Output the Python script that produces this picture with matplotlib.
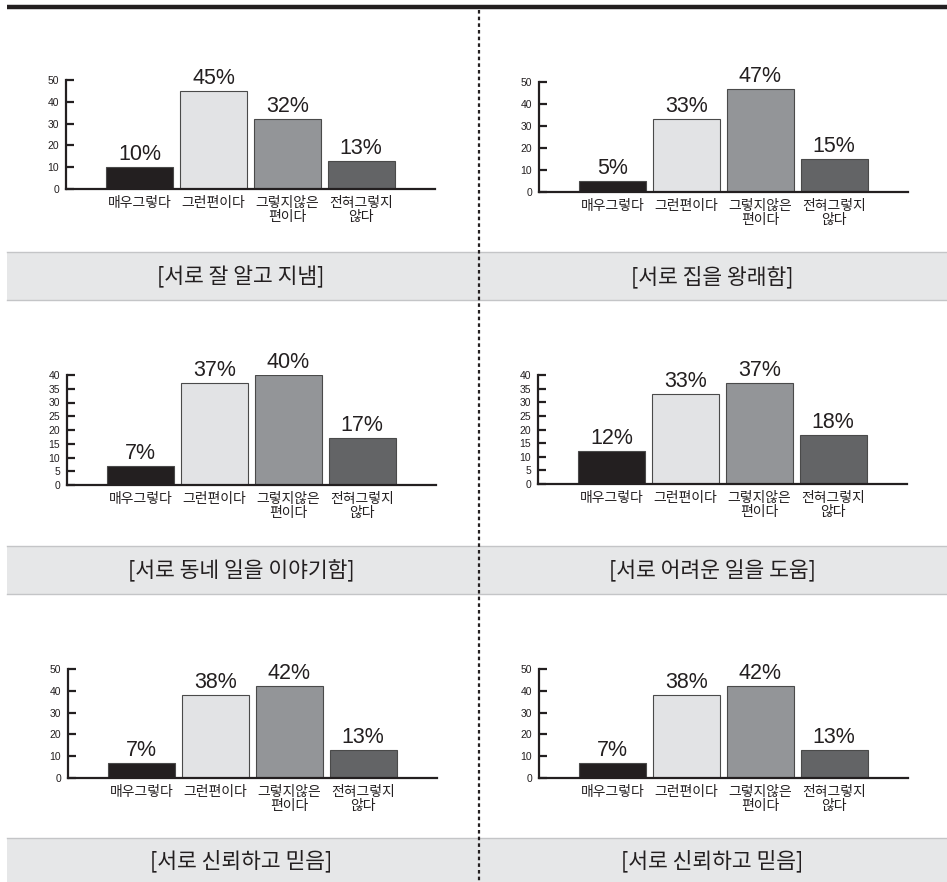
import matplotlib.pyplot as plt
from matplotlib.patches import Rectangle

plt.rcParams['font.family'] = ['Liberation Sans', 'Noto Sans CJK KR', 'DejaVu Sans']
KR = ['Noto Sans CJK KR', 'DejaVu Sans']

# survey answers
categories = ["매우그렇다", "그런편이다", "그렇지않은\n편이다", "전혀그렇지\n않다"]
titles = [
    "[서로 잘 알고 지냄]",
    "[서로 집을 왕래함]",
    "[서로 동네 일을 이야기함]",
    "[서로 어려운 일을 도움]",
    "[서로 신뢰하고 믿음]",
    "[서로 신뢰하고 믿음]",
]
values = [
    [10, 45, 32, 13],
    [5, 33, 47, 15],
    [7, 37, 40, 17],
    [12, 33, 37, 18],
    [7, 38, 42, 13],
    [7, 38, 42, 13],
]
y_max = [50, 50, 40, 40, 50, 50]
y_step = [10, 10, 5, 5, 10, 10]

bar_colors = ["#231f20", "#e2e3e5", "#939598", "#636466"]

W, H = 947, 882
fig = plt.figure(figsize=(W / 100, H / 100), dpi=100)

# background layer in pixel coordinates
bg = fig.add_axes([0, 0, 1, 1])
bg.set_xlim(0, W)
bg.set_ylim(H, 0)
bg.axis("off")

bg.plot([7, W], [7, 7], color="#231f20", lw=3.2, solid_capstyle="butt")

bands = [(252, 300), (546, 594), (838, 890)]
for top, bottom in bands:
    bg.add_patch(Rectangle((7, top), W - 7, bottom - top, facecolor="#e6e7e8",
                           edgecolor="none"))
    bg.plot([7, W], [top, top], color="#c4c5c7", lw=1.0)
    bg.plot([7, W], [bottom, bottom], color="#c4c5c7", lw=1.0)

bg.plot([479, 479], [10, H], color="#231f20", lw=1.6, dashes=(1.6, 1.4))

# panel boxes: left, right, top, bottom (pixels)
boxes = [
    (66, 435, 80, 189),
    (539, 908, 82, 192),
    (67, 436, 375, 485),
    (538, 907, 375, 484),
    (68, 437, 669, 778),
    (539, 908, 669, 778),
]
title_x = [241, 712]

for i, (vals, title) in enumerate(zip(values, titles)):
    l, r, t, b = boxes[i]
    ax = fig.add_axes([l / W, 1 - b / H, (r - l) / W, (b - t) / H])
    ax.patch.set_alpha(0)
    xs = [1, 2, 3, 4]
    ax.bar(xs, vals, width=0.91, color=bar_colors, edgecolor="#4a4a4a",
           linewidth=0.8)
    for x, v in zip(xs, vals):
        ax.annotate(f"{v}%", (x, v), xytext=(0, 1.5), textcoords="offset points",
                    ha="center", va="bottom", fontsize=15.5, color="#231f20",
                    family=['Liberation Sans', 'DejaVu Sans'])
    ax.set_xlim(0, 5)
    ax.set_ylim(0, y_max[i])
    ax.set_yticks(range(0, y_max[i] + 1, y_step[i]))
    ax.set_xticks(xs)
    ax.set_xticklabels(categories, family=KR, fontsize=10, linespacing=1.02,
                       color="#231f20", fontweight="medium")
    for s in ["top", "right"]:
        ax.spines[s].set_visible(False)
    for s in ["left", "bottom"]:
        ax.spines[s].set_linewidth(1.6)
        ax.spines[s].set_color("#231f20")
    ax.tick_params(axis="y", direction="in", length=6, width=1.6, pad=5,
                   labelsize=7.5, colors="#231f20")
    ax.tick_params(axis="x", length=0, pad=5)

    row = i // 2
    top, bottom = bands[row]
    if row == 2:
        bottom = H
    bg.text(title_x[i % 2], (top + bottom) / 2 + 1, title, ha="center",
            va="center", fontsize=15.5, family=KR, color="#231f20",
            fontweight="medium")

fig.savefig("out.png", dpi=100)
